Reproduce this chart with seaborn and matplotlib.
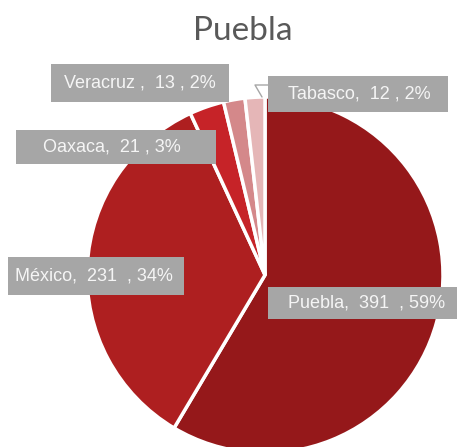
import matplotlib
matplotlib.use("Agg")
import matplotlib.pyplot as plt
from matplotlib.patches import Rectangle
from matplotlib.lines import Line2D
import seaborn as sns

# data
states = ['Puebla', 'México', 'Oaxaca', 'Veracruz', 'Tabasco']
values = [391, 231, 21, 13, 12]
pcts = [59, 34, 3, 2, 2]
colors = ['#95181A', '#AE1F20', '#C62328', '#D4888A', '#E5B6B7']

# label box placement (pixels, top-left origin): x0, y0, x1, y1, text centre x
boxes = {
    'Puebla':   (268, 287, 457, 319, 367),
    'México':   (8, 257, 184, 295, 94),
    'Oaxaca':   (16, 130, 216, 164, 112),
    'Veracruz': (51, 64, 229, 102, 140),
    'Tabasco':  (268, 76, 448, 112, 359),
}

sns.set_theme(style='white')
plt.rcParams['font.family'] = ['Liberation Sans', 'DejaVu Sans']

W, H = 457, 447
fig = plt.figure(figsize=(W / 100, H / 100), dpi=100)

# pie centre (265, 275) px, radius 178 px
cx, cy, r = 265, 275, 178
ax = fig.add_axes([(cx - r) / W, (H - cy - r) / H, 2 * r / W, 2 * r / H])
pal = sns.color_palette(colors)
ax.pie(values, colors=pal, startangle=90, counterclock=False, radius=1,
       wedgeprops=dict(edgecolor='white', linewidth=2.5))
ax.set_xlim(-1, 1)
ax.set_ylim(-1, 1)
ax.set_aspect('auto')
ax.axis('off')

fig.text(243 / W, 1 - 31 / H, 'Puebla', ha='center', va='center',
         fontsize=24, color='#595959', family=['Lato', 'DejaVu Sans'])

# leader for Tabasco
fig.add_artist(Line2D([268 / W, 255 / W, 262 / W],
                      [1 - 85 / H, 1 - 85 / H, 1 - 97 / H],
                      transform=fig.transFigure, color='#A6A6A6', lw=1))

for name, v, p in zip(states, values, pcts):
    x0, y0, x1, y1, tx = boxes[name]
    fig.add_artist(Rectangle((x0 / W, 1 - y1 / H), (x1 - x0) / W, (y1 - y0) / H,
                             transform=fig.transFigure, facecolor='#A6A6A6',
                             edgecolor='none'))
    if name == 'Veracruz':
        label = f'{name} ,  {v} , {p}%'
    elif v > 100:
        label = f'{name},  {v}  , {p}%'
    else:
        label = f'{name},  {v} , {p}%'
    fig.text(tx / W, 1 - (y0 + y1) / 2 / H, label, ha='center', va='center',
             fontsize=13, color='#F5F5F5')

fig.savefig('out.png', dpi=100)
